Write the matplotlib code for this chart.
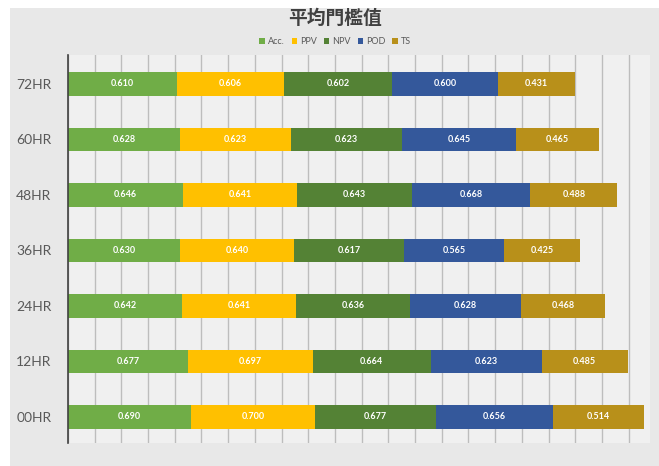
import matplotlib.pyplot as plt
import numpy as np
from matplotlib.patches import Rectangle

plt.rcParams['font.family'] = ['Lato', 'Noto Sans CJK TC', 'DejaVu Sans']

# 資料：各預報時距的平均門檻值
hours = ['00HR', '12HR', '24HR', '36HR', '48HR', '60HR', '72HR']
acc = [0.690, 0.677, 0.642, 0.630, 0.646, 0.628, 0.610]
ppv = [0.700, 0.697, 0.641, 0.640, 0.641, 0.623, 0.606]
npv = [0.677, 0.664, 0.636, 0.617, 0.643, 0.623, 0.602]
pod = [0.656, 0.623, 0.628, 0.565, 0.668, 0.645, 0.600]
ts = [0.514, 0.485, 0.468, 0.425, 0.488, 0.465, 0.431]

series = [('Acc.', acc, '#70ad47'), ('PPV', ppv, '#ffc000'),
          ('NPV', npv, '#548235'), ('POD', pod, '#34589b'),
          ('TS', ts, '#b8901a')]

fig = plt.figure(figsize=(6.59, 4.66), dpi=100)
fig.patch.set_facecolor('white')
# 灰色底板
fig.patches.append(Rectangle((10 / 659, 0), 1, 1 - 8 / 466, transform=fig.transFigure,
                             facecolor='#e8e8e8', edgecolor='none', zorder=-10))

ax = fig.add_axes([68 / 659, 23 / 466, 582 / 659, 388 / 466])
ax.set_facecolor('#f0f0f0')

y = np.arange(len(hours))
left = np.zeros(len(hours))
for name, vals, col in series:
    vals = np.array(vals)
    ax.barh(y, vals, left=left, height=0.42, color=col, label=name, zorder=3)
    for yi, l, v in zip(y, left, vals):
        ax.text(l + v / 2, yi, f'{v:.3f}', ha='center', va='center',
                color='white', fontsize=6.5, fontweight='bold', zorder=4)
    left += vals

ax.set_xlim(0, 3.27)
ax.set_ylim(-0.47, 6.52)
ax.set_xticks(np.arange(0, 3.16, 0.15))
ax.set_xticklabels([])
ax.tick_params(axis='x', length=0)
ax.tick_params(axis='y', length=0, pad=12, labelsize=10, labelcolor='#595959')
ax.set_yticks(y)
ax.set_yticklabels(hours)
ax.grid(axis='x', color='#bdbdbd', linewidth=1, zorder=1)
for s in ['top', 'right', 'bottom']:
    ax.spines[s].set_visible(False)
ax.spines['left'].set_color('#404040')
ax.spines['left'].set_linewidth(1.2)
ax.spines['left'].set_zorder(5)

fig.text(335 / 659, 1 - 18 / 466, '平均門檻值', ha='center', va='center',
         fontsize=13.5, fontweight='bold', color='#404040',
         family=['Noto Sans CJK TC', 'DejaVu Sans'])
ax.legend(loc='center', bbox_to_anchor=(335 / 659, 1 - 42 / 466),
          bbox_transform=fig.transFigure, ncol=5, frameon=False,
          fontsize=6.5, handlelength=0.6, handleheight=0.6, handletextpad=0.3,
          columnspacing=0.8, labelcolor='#595959')

fig.savefig('out.png', dpi=100, facecolor=fig.get_facecolor())
